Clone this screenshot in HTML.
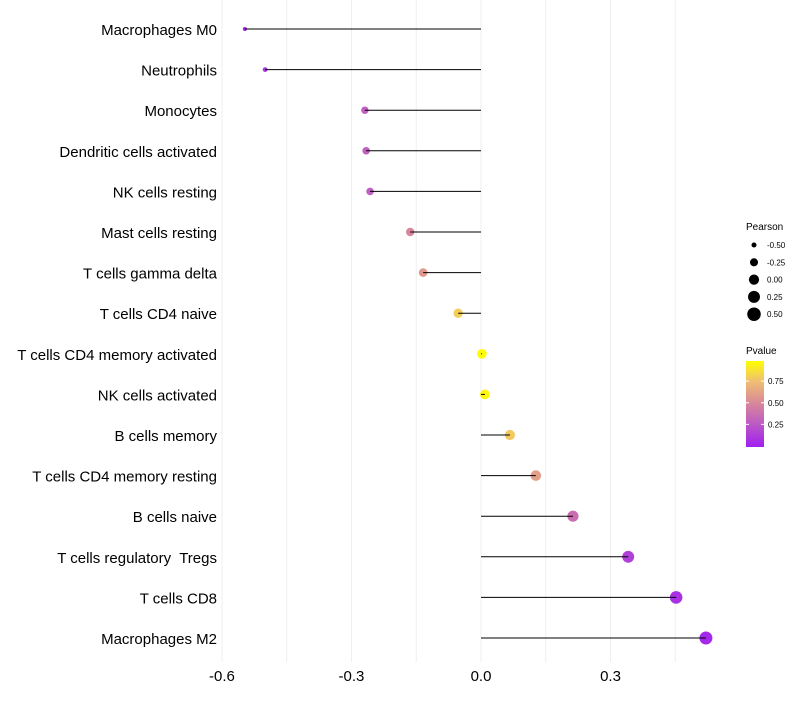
<!DOCTYPE html>
<html><head><meta charset="utf-8"><style>
body{margin:0;background:#fff;font-family:"Liberation Sans",sans-serif}
text{white-space:pre}
</style></head><body>
<svg id="chart" width="800" height="700" xmlns="http://www.w3.org/2000/svg">
<defs><linearGradient id="pg" x1="0" y1="1" x2="0" y2="0">
<stop offset="0" stop-color="#a020f0"/><stop offset="0.3" stop-color="#c060c0"/><stop offset="0.52" stop-color="#d98a98"/><stop offset="0.77" stop-color="#f0c070"/><stop offset="1" stop-color="#ffff00"/></linearGradient></defs>
</svg>
<script>
const categories=["Macrophages M0","Neutrophils","Monocytes","Dendritic cells activated","NK cells resting","Mast cells resting","T cells gamma delta","T cells CD4 naive","T cells CD4 memory activated","NK cells activated","B cells memory","T cells CD4 memory resting","B cells naive","T cells regulatory  Tregs","T cells CD8","Macrophages M2"];
const pearson=[-0.547,-0.50,-0.269,-0.266,-0.257,-0.164,-0.134,-0.053,0.002,0.009,0.067,0.127,0.213,0.341,0.452,0.521];
const pvalue=[0.03,0.08,0.3,0.3,0.3,0.5,0.58,0.82,0.99,0.97,0.8,0.62,0.38,0.15,0.08,0.04];
const xTicks=[-0.6,-0.3,0.0,0.3];
const xTickLabels=["-0.6","-0.3","0.0","0.3"];
const sizeLegend=[-0.5,-0.25,0,0.25,0.5];
const sizeLegendLabels=["-0.50","-0.25","0.00","0.25","0.50"];
const colorLegend=[0.25,0.5,0.75];
const svg=document.getElementById('chart');const NS="http://www.w3.org/2000/svg";
function mk(t,a,p){const e=document.createElementNS(NS,t);for(const k in a)e.setAttribute(k,a[k]);(p||svg).appendChild(e);return e;}
const x=v=>481+v*431.7;
const y=i=>29+i*40.6;
const r=v=>Math.sqrt(4+Math.max(0,v+0.55)*35.5);
const stops=[[0,[160,32,240]],[0.3,[192,96,192]],[0.52,[217,138,152]],[0.77,[240,192,112]],[1,[255,255,0]]];
function col(p){for(let i=1;i<stops.length;i++){if(p<=stops[i][0]){const a=stops[i-1],b=stops[i],t=(p-a[0])/(b[0]-a[0]);return 'rgb('+a[1].map((c,j)=>Math.round(c+(b[1][j]-c)*t)).join(',')+')';}}return 'rgb(255,255,0)';}
[-0.6,-0.45,-0.3,-0.15,0,0.15,0.3,0.45].forEach(v=>{const g=mk('line',{x1:x(v),x2:x(v),y1:0,y2:662,stroke:'#efefef','stroke-width':1});

});
xTicks.forEach((v,i)=>{const t=mk('text',{x:x(v),y:681,'text-anchor':'middle','font-size':15,fill:'#000'});t.textContent=xTickLabels[i];

});
categories.forEach((c,i)=>{
const t=mk('text',{x:217,y:y(i)+6,'text-anchor':'end','font-size':15,fill:'#000'});t.textContent=c;


const p=mk('circle',{cx:x(pearson[i]),cy:y(i),r:r(pearson[i]),fill:col(pvalue[i])});


const l=mk('line',{x1:x(0),x2:x(pearson[i]),y1:y(i),y2:y(i),stroke:'#000','stroke-width':1});


});
let tt=mk('text',{x:746,y:230,'font-size':10});tt.textContent='Pearson';


sizeLegend.forEach((v,i)=>{const cy=245+i*17.3;
const c=mk('circle',{cx:754,cy:cy,r:r(v)*1.05,fill:'#000'});


const t=mk('text',{x:767,y:cy+3,'font-size':8});t.textContent=sizeLegendLabels[i];

});
tt=mk('text',{x:746,y:354,'font-size':10});tt.textContent='Pvalue';


const bar=mk('rect',{x:746,y:361,width:18,height:86,fill:'url(#pg)'});


colorLegend.forEach(v=>{const cy=446-v*86.5;
mk('line',{x1:746,x2:749,y1:cy,y2:cy,stroke:'#fff'});mk('line',{x1:761,x2:764,y1:cy,y2:cy,stroke:'#fff'});
const t=mk('text',{x:768,y:cy+3,'font-size':8});t.textContent=v.toFixed(2);

});
</script>
</body></html>
